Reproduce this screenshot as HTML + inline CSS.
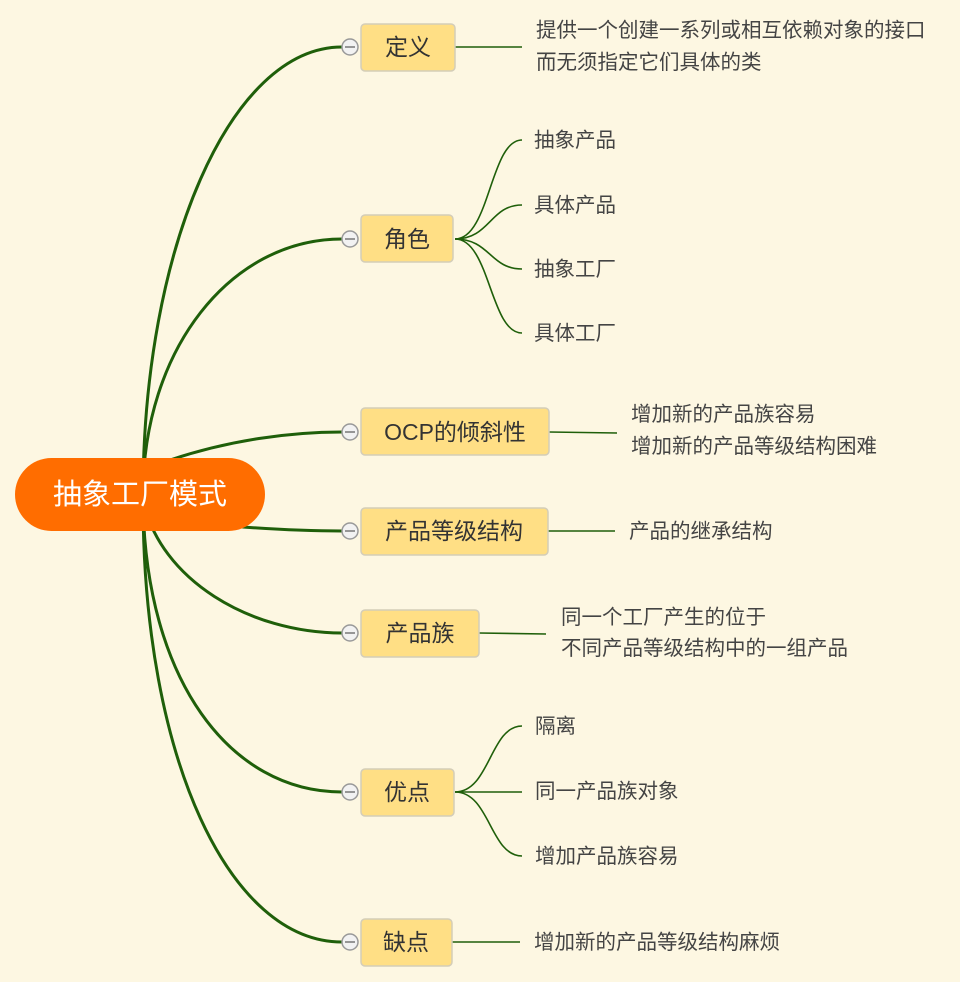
<!DOCTYPE html>
<html><head><meta charset="utf-8"><style>
html,body{margin:0;padding:0;background:#fdf7e2;}
svg{display:block}
text{font-family:"Liberation Sans","Noto Sans CJK SC",sans-serif;}
.n{font-size:23px;fill:#333;}
.l{font-size:20.5px;fill:#444;}
</style></head><body>
<svg width="960" height="982" viewBox="0 0 960 982">
<rect width="960" height="982" fill="#fdf7e2"/>
<g fill="none" stroke="#1f5f0a" stroke-width="3">
<path d="M143,495 C143,250 230,47 342,47"/>
<path d="M143,495 C143,350 230,239 342,239"/>
<path d="M170,460 C230,440 290,432 342,432"/>
<path d="M230,526 C280,530 310,531 342,531"/>
<path d="M143,500 C160,580 250,633 342,633"/>
<path d="M143,500 C145,680 230,792 342,792"/>
<path d="M143,500 C143,760 230,942 342,942"/>
</g>
<g fill="none" stroke="#1f5f0a" stroke-width="1.6">
<path d="M455,47 L522,47"/>
<path d="M455,239 C490,239 490,140 522,140"/>
<path d="M455,239 C490,239 490,205 522,205"/>
<path d="M455,239 C490,239 490,269 522,269"/>
<path d="M455,239 C490,239 490,333 522,333"/>
<path d="M549,432 L617,433"/>
<path d="M548,531 L615,531"/>
<path d="M479,633 L546,634"/>
<path d="M455,792 C490,792 490,726 522,726"/>
<path d="M455,792 L522,792"/>
<path d="M455,792 C490,792 490,856 522,856"/>
<path d="M452,942 L520,942"/>
</g>
<rect x="15" y="458" width="250" height="73" rx="36.5" fill="#ff6d00"/>
<text x="140" y="504" text-anchor="middle" font-size="29" fill="#fff">抽象工厂模式</text>
<g fill="#ffdf85" stroke="#d4cdb8" stroke-width="1.5">
<rect x="361" y="24" width="94" height="47" rx="4"/>
<rect x="361" y="215" width="92" height="47" rx="4"/>
<rect x="361" y="408" width="188" height="47" rx="4"/>
<rect x="361" y="508" width="187" height="47" rx="4"/>
<rect x="361" y="610" width="118" height="47" rx="4"/>
<rect x="361" y="769" width="93" height="47" rx="4"/>
<rect x="361" y="919" width="91" height="47" rx="4"/>
</g>
<g fill="#f2f2f2" stroke="#999" stroke-width="1.5">
<circle cx="350" cy="47" r="8"/><circle cx="350" cy="239" r="8"/><circle cx="350" cy="432" r="8"/>
<circle cx="350" cy="531" r="8"/><circle cx="350" cy="633" r="8"/><circle cx="350" cy="792" r="8"/><circle cx="350" cy="942" r="8"/>
</g>
<g stroke="#777" stroke-width="1.5">
<line x1="345" y1="47" x2="355" y2="47"/><line x1="345" y1="239" x2="355" y2="239"/><line x1="345" y1="432" x2="355" y2="432"/>
<line x1="345" y1="531" x2="355" y2="531"/><line x1="345" y1="633" x2="355" y2="633"/><line x1="345" y1="792" x2="355" y2="792"/><line x1="345" y1="942" x2="355" y2="942"/>
</g>
<g class="n" text-anchor="middle">
<text x="408" y="55">定义</text>
<text x="407" y="247">角色</text>
<text x="455" y="440">OCP的倾斜性</text>
<text x="454" y="539">产品等级结构</text>
<text x="420" y="641">产品族</text>
<text x="407" y="800">优点</text>
<text x="406" y="950">缺点</text>
</g>
<g class="l">
<text x="536" y="37">提供一个创建一系列或相互依赖对象的接口</text>
<text x="536" y="69">而无须指定它们具体的类</text>
<text x="534" y="147">抽象产品</text>
<text x="534" y="212">具体产品</text>
<text x="534" y="276">抽象工厂</text>
<text x="534" y="340">具体工厂</text>
<text x="631" y="421">增加新的产品族容易</text>
<text x="631" y="453">增加新的产品等级结构困难</text>
<text x="629" y="538">产品的继承结构</text>
<text x="561" y="624">同一个工厂产生的位于</text>
<text x="561" y="655">不同产品等级结构中的一组产品</text>
<text x="535" y="733">隔离</text>
<text x="535" y="798">同一产品族对象</text>
<text x="535" y="863">增加产品族容易</text>
<text x="534" y="949">增加新的产品等级结构麻烦</text>
</g>
</svg>
</body></html>
